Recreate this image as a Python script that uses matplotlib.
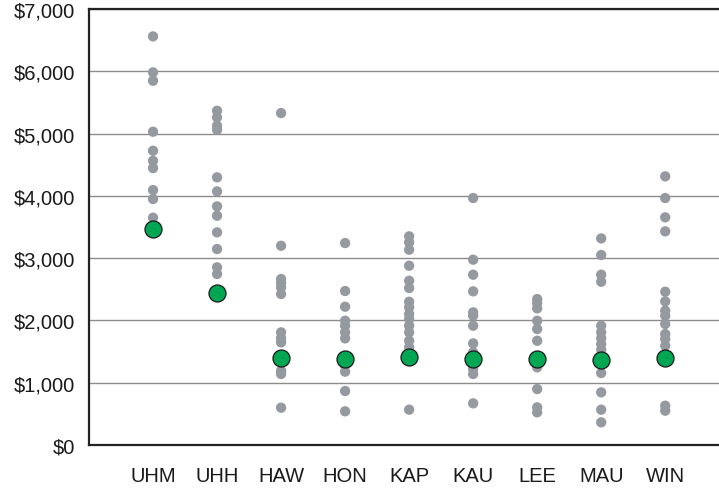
import matplotlib
matplotlib.use("Agg")
import matplotlib.pyplot as plt
from matplotlib.ticker import FuncFormatter

plt.rcParams['font.family'] = ['Liberation Sans', 'DejaVu Sans']

campuses = ["UHM", "UHH", "HAW", "HON", "KAP", "KAU", "LEE", "MAU", "WIN"]

uhm = [6560, 5982, 5848, 5029, 4724, 4563, 4446, 4093, 3949, 3649]
uhh = [5366, 5260, 5126, 5061, 4297, 4072, 3831, 3681, 3414, 3146, 2852, 2745]
haw = [5329, 3199, 2665, 2600, 2530, 2424, 1809, 1713, 1648, 1193, 1140, 599]
hon = [3242, 2472, 2220, 1995, 1915, 1809, 1712, 1273, 1177, 867, 541]
kap = [3350, 3253, 3135, 2878, 2637, 2520, 2300, 2210, 2103, 2022, 1915, 1809, 1674, 1568, 567]
kau = [3965, 2975, 2734, 2467, 2130, 2076, 1915, 1632, 1488, 1220, 1140, 669]
lee = [2343, 2279, 2194, 1995, 1862, 1674, 1247, 899, 605, 525]
mau = [3317, 3050, 2734, 2621, 1915, 1809, 1713, 1621, 1530, 1156, 846, 567, 364]
win = [4313, 3965, 3655, 3430, 2461, 2306, 2156, 2076, 1942, 1782, 1701, 1594, 631, 551]
campus_values = [uhm, uhh, haw, hon, kap, kau, lee, mau, win]

highlight = [3467, 2440, 1401, 1380, 1407, 1380, 1380, 1364, 1391]

fig = plt.figure(figsize=(7.19, 4.89), dpi=100)
ax = fig.add_axes([0.1238, 0.0879, 0.8762, 0.8917])

for i, vals in enumerate(campus_values):
    ax.scatter([i] * len(vals), vals, s=55, color="#959aa1", edgecolors="none", zorder=3)

ax.scatter(range(len(campuses)), highlight, s=150, color="#00a651",
           edgecolors="#1a1a1a", linewidths=0.9, zorder=4)

ax.set_xlim(-1.0, 8.84)
ax.set_ylim(0, 7000)
ax.set_yticks(range(0, 7001, 1000))
ax.yaxis.set_major_formatter(FuncFormatter(lambda v, p: f"${int(v):,}"))
ax.set_xticks(range(len(campuses)))
ax.set_xticklabels(campuses)

ax.grid(axis="y", color="#8c8c8c", linewidth=1.0, zorder=0)
ax.set_axisbelow(True)
ax.tick_params(axis="both", length=0, labelsize=14.5, colors="#1a1a1a")
ax.tick_params(axis="y", pad=10)
ax.tick_params(axis="x", pad=15)

for side in ["left", "bottom", "top"]:
    ax.spines[side].set_color("#222222")
    ax.spines[side].set_linewidth(1.6)
ax.spines["right"].set_visible(False)

fig.savefig("out.png", dpi=100)
